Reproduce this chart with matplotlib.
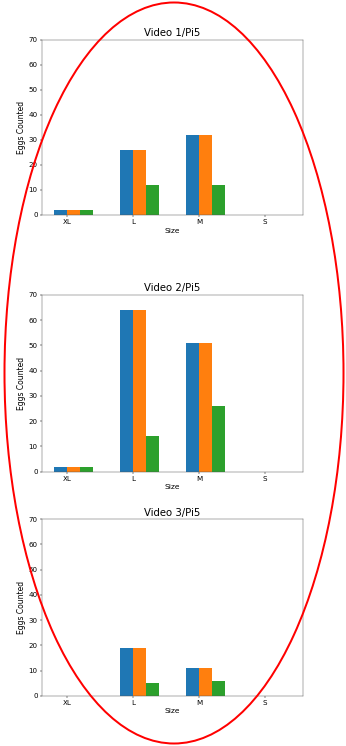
import matplotlib
matplotlib.use('Agg')
import matplotlib.pyplot as plt
from matplotlib.patches import Ellipse
import numpy as np

# egg counts per size, three counting methods per video
sizes = ['XL', 'L', 'M', 'S']
titles = ['Video 1/Pi5', 'Video 2/Pi5', 'Video 3/Pi5']
series_a = [[2, 26, 32, 0], [2, 64, 51, 0], [0, 19, 11, 0]]
series_b = [[2, 26, 32, 0], [2, 64, 51, 0], [0, 19, 11, 0]]
series_c = [[2, 12, 12, 0], [2, 14, 26, 0], [0, 5, 6, 0]]

dpi = 43
fig = plt.figure(figsize=(346 / dpi, 746 / dpi), dpi=dpi)

# axes boxes in figure fraction (left, bottom, width, height)
boxes = [
    (0.1205, 0.7118, 0.756, 0.2352),
    (0.1205, 0.3677, 0.756, 0.2369),
    (0.1205, 0.0674, 0.756, 0.2365),
]

x = np.arange(len(sizes))
w = 0.2
for i in range(3):
    ax = fig.add_axes(boxes[i])
    ax.bar(x - w / 2, series_a[i], w, color='#1f77b4')
    ax.bar(x + w / 2, series_b[i], w, color='#ff7f0e')
    ax.bar(x + 3 * w / 2, series_c[i], w, color='#2ca02c')
    ax.set_xticks(x)
    ax.set_xticklabels(sizes)
    ax.set_ylim(0, 70)
    ax.tick_params(labelsize=12)
    ax.set_title(titles[i], fontsize=17)
    ax.set_xlabel('Size', fontsize=12.5)
    ax.set_ylabel('Eggs Counted', fontsize=12.8)
    for s in ax.spines.values():
        s.set_edgecolor('#555555')

# red hand-drawn ellipse over the figure
ell = Ellipse((174 / 346, 1 - 373 / 746), 339 / 346, 741 / 746,
              transform=fig.transFigure, fill=False, edgecolor='red',
              linewidth=2 * 72 / dpi)
fig.patches.append(ell)

fig.savefig('out.png', dpi=dpi)
